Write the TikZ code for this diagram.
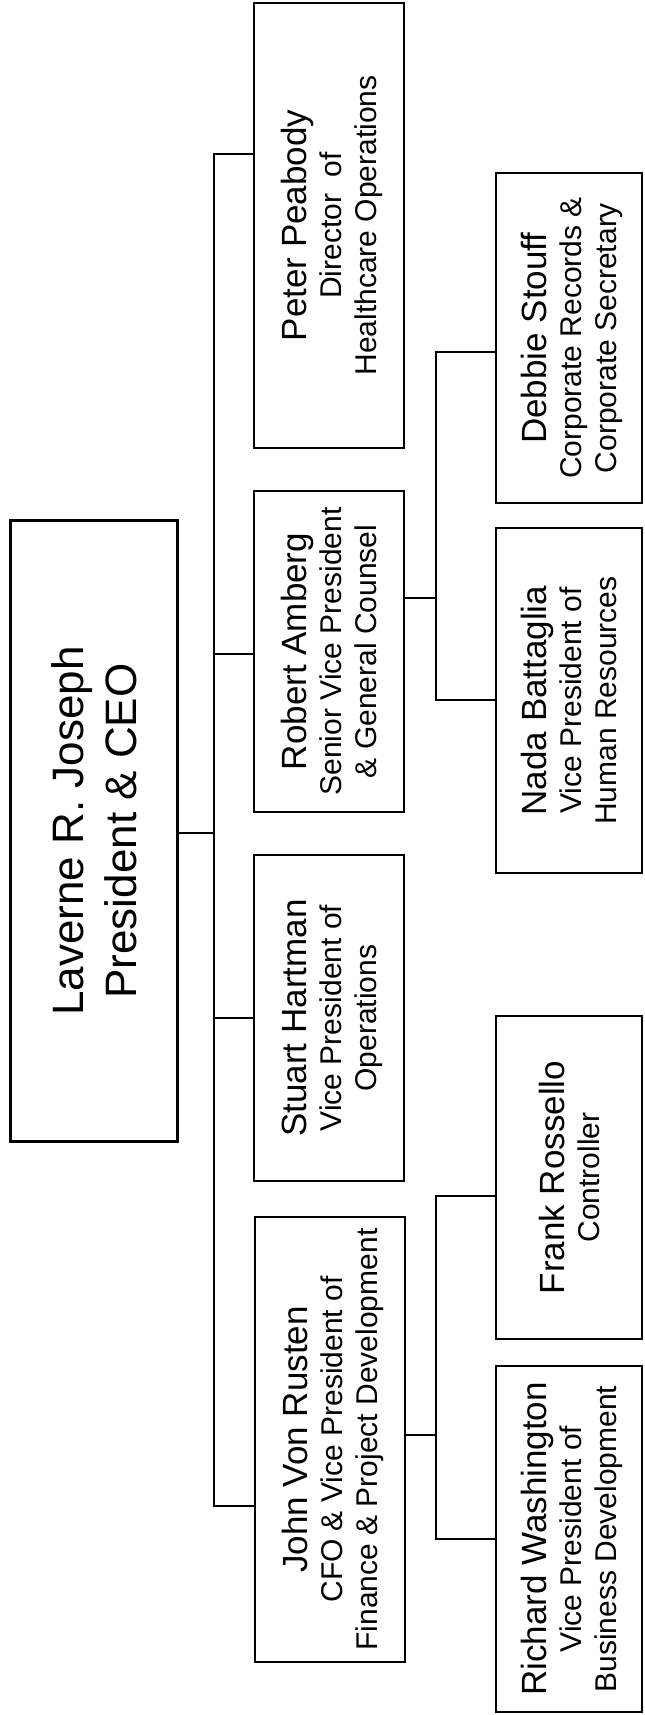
\documentclass[tikz,border=0pt]{standalone}
\usepackage{fontspec}
\setmainfont{Liberation Sans}
\usepackage{graphicx}
\tikzstyle{ceobox} = [rectangle, 
minimum width=83.5pt, 
minimum height=310.5pt,
inner sep=0pt,
text centered, 
draw=black, line width=1.25pt]
\tikzstyle{vpbox} = [rectangle, 
minimum width=75pt, 
inner sep=0pt,
text centered, 
draw=black, line width=1.25pt]
\tikzstyle{staffbox} = [rectangle, 
minimum width=73pt, 
inner sep=0pt,
text centered, 
draw=black, line width=1.25pt]
\tikzstyle{orgline} = [line width=1pt, line cap=rect]
\newcommand{\boxtext}[2]{\rotatebox{90}{\fontsize{15}{17.5}\selectfont
  \begin{tabular}{@{}c@{}}\rule{0pt}{17.75pt}{\fontsize{17.5}{17.5}\selectfont #1}\\#2\end{tabular}}}

\begin{document}
\begin{tikzpicture}[x=0.5pt, y=-0.5pt]
\useasboundingbox (0,0) rectangle (644,1715);
\node (ceo) [ceobox] at (94,831) {\rotatebox{90}{\fontsize{22}{26.5}\selectfont
  \begin{tabular}{@{}c@{}}\rule{0pt}{23.7pt}Laverne R. Joseph\\President \& CEO\end{tabular}}};

\node (peter) [vpbox, minimum height=222.5pt] at (329,225.5) {\boxtext{Peter Peabody}{Director\ \ of\\Healthcare Operations}};
\node (robert) [vpbox, minimum height=160.5pt] at (329,651.5) {\boxtext{Robert Amberg}{Senior Vice President\\\& General Counsel}};
\node (stuart) [vpbox, minimum height=163pt] at (329,1018) {\boxtext{Stuart Hartman}{Vice President of\\Operations}};
\node (john) [vpbox, minimum height=222.5pt] at (330,1439.5) {\boxtext{John Von Rusten}{CFO \& Vice President of\\Finance \& Project Development}};

\node (debbie) [staffbox, minimum height=165pt] at (569,338) {\boxtext{Debbie Stouff}{Corporate Records \&\\Corporate Secretary}};
\node (nada) [staffbox, minimum height=172.5pt] at (569,700.5) {\boxtext{Nada Battaglia}{Vice President of\\Human Resources}};
\node (frank) [staffbox, minimum height=161.5pt] at (569,1177.5) {\boxtext{Frank Rossello}{Controller}};
\node (richard) [staffbox, minimum height=173pt] at (569,1539) {\boxtext{Richard Washington}{Vice President of\\Business Development}};

% main spine
\coordinate (peter-in) at (214,154);
\coordinate (robert-in) at (214,654);
\coordinate (ceo-out) at (214,833);
\coordinate (stuart-in) at (214,1018);
\coordinate (john-in) at (214,1506);
\draw [orgline] (peter-in) -- (john-in);
\draw [orgline] (ceo.east |- ceo-out) -- (ceo-out);
\foreach \who in {peter,robert,stuart,john}
  \draw [orgline] (\who-in) -- (\who-in -| \who.west);

% sub spines
\coordinate (robert-out) at (436,598);
\coordinate (debbie-in) at (436,352);
\coordinate (nada-in) at (436,700);
\coordinate (john-out) at (436,1435);
\coordinate (frank-in) at (436,1196);
\coordinate (richard-in) at (436,1539);
\draw [orgline] (robert.east |- robert-out) -- (robert-out);
\draw [orgline] (debbie-in) -- (nada-in);
\draw [orgline] (john.east |- john-out) -- (john-out);
\draw [orgline] (frank-in) -- (richard-in);
\foreach \who in {debbie,nada,frank,richard}
  \draw [orgline] (\who-in) -- (\who-in -| \who.west);
\end{tikzpicture}
\end{document}
